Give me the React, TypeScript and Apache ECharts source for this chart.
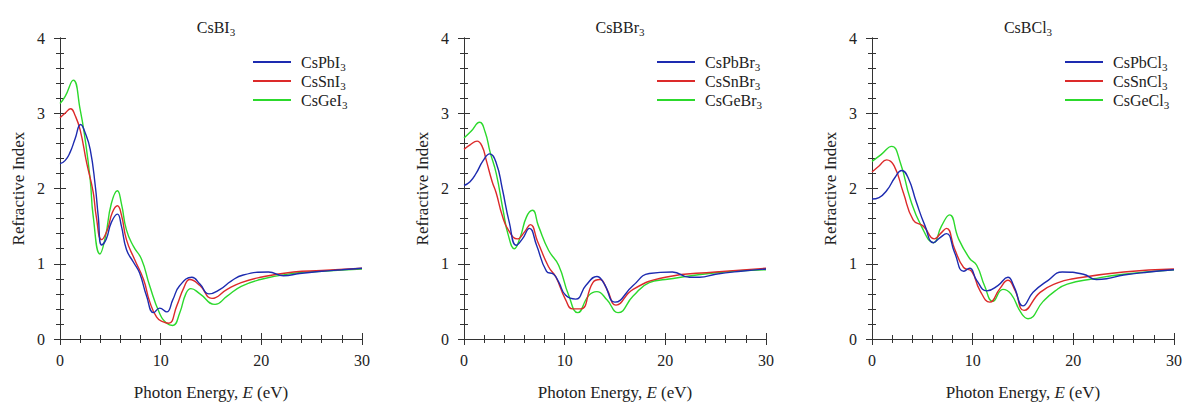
import React, { useEffect, useRef } from "react";
import * as echarts from "echarts";

// ---------- data ----------
const panelTitles = ["CsBI3", "CsBBr3", "CsBCl3"];
const seriesNames = [
  ["CsPbI3", "CsSnI3", "CsGeI3"],
  ["CsPbBr3", "CsSnBr3", "CsGeBr3"],
  ["CsPbCl3", "CsSnCl3", "CsGeCl3"],
];
const colors = ["#1d2bb0", "#dc2a2a", "#2cd92c"];
const xTicks = [0, 10, 20, 30];
const yTicks = [0, 1, 2, 3, 4];

// Panel 1: CsBI3
const CsPbI3: number[][] = [
  [0, 2.33], [0.5, 2.37], [1, 2.48], [1.5, 2.66], [2.05, 2.85], [2.5, 2.74], [3, 2.52], [3.5, 2.04],
  [3.8, 1.63], [4.14, 1.25], [4.6, 1.33], [5.1, 1.55], [5.7, 1.66], [6.1, 1.5], [6.6, 1.19], [7.3, 1.02],
  [7.9, 0.88], [8.6, 0.57], [9.3, 0.35], [9.9, 0.41], [10.6, 0.36], [11.2, 0.52], [11.9, 0.71], [13.1, 0.82],
  [13.9, 0.73], [14.8, 0.6], [15.9, 0.66], [17, 0.77], [18.2, 0.85], [20.7, 0.89], [22.2, 0.84], [23.8, 0.87],
  [26, 0.9], [28, 0.92], [30, 0.94],
];
const CsSnI3: number[][] = [
  [0, 2.94], [0.5, 3.0], [1.06, 3.06], [1.5, 2.97], [2.0, 2.78], [2.65, 2.34], [3.3, 1.95], [3.6, 1.63],
  [4.14, 1.32], [4.7, 1.45], [5.2, 1.68], [5.7, 1.77], [6.1, 1.65], [6.6, 1.32], [7.4, 1.06], [8.3, 0.79],
  [8.9, 0.5], [9.6, 0.29], [10.2, 0.23], [10.8, 0.21], [11.6, 0.44], [12.3, 0.68], [12.9, 0.79], [13.9, 0.71],
  [15.1, 0.54], [16.6, 0.66], [18, 0.75], [19.9, 0.82], [23.2, 0.89], [26, 0.91], [30, 0.94],
];
const CsGeI3: number[][] = [
  [0, 3.13], [0.5, 3.22], [1.32, 3.44], [2.0, 3.05], [2.5, 2.65], [3.0, 2.12], [3.3, 1.63], [3.97, 1.13],
  [4.5, 1.35], [5.1, 1.8], [5.7, 1.97], [6.1, 1.8], [6.6, 1.45], [7.3, 1.23], [8.1, 1.06], [8.9, 0.71],
  [9.9, 0.34], [10.6, 0.21], [11.2, 0.18], [11.9, 0.35], [12.5, 0.6], [13.0, 0.67], [13.9, 0.6], [15.4, 0.46],
  [16.6, 0.57], [18, 0.7], [19.9, 0.79], [23, 0.87], [26, 0.9], [30, 0.93],
];

// Panel 2: CsBBr3
const CsPbBr3: number[][] = [
  [0, 2.04], [0.6, 2.09], [1.2, 2.2], [1.9, 2.37], [2.55, 2.46], [3.2, 2.34], [3.8, 2.0], [4.5, 1.55],
  [5.2, 1.245], [5.8, 1.33], [6.5, 1.47], [7.2, 1.25], [8.2, 0.9], [8.9, 0.86], [9.4, 0.76], [10.1, 0.58],
  [11.1, 0.53], [12.1, 0.71], [13.2, 0.83], [13.9, 0.74], [15.0, 0.49], [16.8, 0.71], [18.4, 0.87], [20.7, 0.89],
  [22.4, 0.82], [23.4, 0.82], [25, 0.86], [27.5, 0.9], [30, 0.93],
];
const CsSnBr3: number[][] = [
  [0, 2.52], [0.6, 2.58], [1.3, 2.63], [1.8, 2.56], [2.2, 2.38], [2.8, 2.09], [3.2, 1.94], [3.8, 1.64],
  [4.4, 1.45], [5.3, 1.33], [6.0, 1.42], [6.6, 1.52], [7.3, 1.3], [8.4, 0.96], [9.1, 0.83], [10.1, 0.52],
  [10.8, 0.4], [11.6, 0.4], [12.8, 0.75], [13.5, 0.79], [14.2, 0.66], [15.1, 0.45], [16.8, 0.66], [20, 0.82],
  [25, 0.89], [30, 0.94],
];
const CsGeBr3: number[][] = [
  [0, 2.67], [0.7, 2.76], [1.55, 2.88], [2.1, 2.75], [2.6, 2.48], [3.2, 2.2], [3.9, 1.7], [4.4, 1.38],
  [5.0, 1.2], [5.6, 1.36], [6.2, 1.62], [6.8, 1.71], [7.4, 1.5], [8.4, 1.18], [9.4, 0.98], [10.4, 0.58],
  [11.3, 0.35], [12.4, 0.58], [13.2, 0.63], [14.2, 0.52], [15.3, 0.35], [16.8, 0.57], [18.4, 0.75], [20, 0.79],
  [25, 0.88], [30, 0.92],
];

// Panel 3: CsBCl3
const CsPbCl3: number[][] = [
  [0, 1.86], [0.7, 1.88], [1.5, 1.98], [2.3, 2.15], [2.95, 2.24], [3.6, 2.14], [4.4, 1.82], [5.25, 1.51],
  [6.1, 1.28], [6.7, 1.34], [7.4, 1.4], [8.2, 1.15], [9.1, 0.9], [9.7, 0.94], [10.4, 0.78], [11.4, 0.64],
  [12.5, 0.71], [13.5, 0.82], [14.1, 0.7], [15.0, 0.44], [16.0, 0.62], [17.5, 0.78], [18.9, 0.89], [21, 0.86],
  [22.3, 0.79], [23.3, 0.8], [25, 0.85], [27.5, 0.89], [30, 0.92],
];
const CsSnCl3: number[][] = [
  [0, 2.22], [0.7, 2.3], [1.45, 2.38], [2.2, 2.3], [3.1, 1.95], [4.1, 1.58], [5.1, 1.5], [6.2, 1.33],
  [6.8, 1.4], [7.4, 1.47], [8.2, 1.2], [9.1, 0.95], [9.9, 0.9], [10.7, 0.65], [11.7, 0.49], [12.7, 0.67],
  [13.5, 0.78], [14.2, 0.65], [15.1, 0.38], [16.7, 0.62], [18.5, 0.75], [20, 0.8], [25, 0.89], [30, 0.93],
];
const CsGeCl3: number[][] = [
  [0, 2.36], [0.9, 2.45], [1.95, 2.56], [2.8, 2.35], [3.8, 1.86], [4.9, 1.5], [6.1, 1.28], [6.9, 1.5],
  [7.7, 1.65], [8.6, 1.33], [9.7, 1.07], [10.4, 0.98], [11.2, 0.7], [12.0, 0.5], [13.0, 0.66], [13.8, 0.6],
  [14.8, 0.35], [15.5, 0.27], [17.0, 0.5], [18.2, 0.64], [19.4, 0.73], [22, 0.8], [25, 0.86], [30, 0.92],
];

const panelData = [
  [CsPbI3, CsSnI3, CsGeI3],
  [CsPbBr3, CsSnBr3, CsGeBr3],
  [CsPbCl3, CsSnCl3, CsGeCl3],
];

// ---------- layout ----------
const FONT = "Liberation Serif";
const TXT = "#222";
const gridLefts = [60, 464, 872];
const gridTop = 38;
const gridSize = 302;

const sub = (s: string) => `{n|${s.slice(0, -1)}}{s|${s.slice(-1)}}`;
const richSub = (size: number) => ({
  n: { fontSize: size, fontFamily: FONT, fontWeight: "normal" as const, color: TXT, lineHeight: 20 },
  s: { fontSize: Math.round(size * 0.68), fontFamily: FONT, fontWeight: "normal" as const, color: TXT, lineHeight: 11, verticalAlign: "bottom" as const },
});

export default function App() {
  const ref = useRef<HTMLDivElement>(null);
  useEffect(() => {
    if (!ref.current) return;
    const chart = echarts.init(ref.current, undefined, { renderer: "svg" });
    const grids: any[] = [];
    const xAxes: any[] = [];
    const yAxes: any[] = [];
    const series: any[] = [];
    const legends: any[] = [];
    const titles: any[] = [];
    const axisLine = { show: true, lineStyle: { color: "#333", width: 1 } };
    const txt = { fontSize: 16, fontFamily: FONT, fontWeight: "normal" as const, fontStyle: "normal" as const, color: TXT };
    const nameTxt = { ...txt, fontSize: 17 };
    const richTxt = { t: { ...txt }, i: { ...txt, fontStyle: "italic" as const } };
    const richName = { t: { ...nameTxt }, i: { ...nameTxt, fontStyle: "italic" as const } };
    panelTitles.forEach((t, i) => {
      grids.push({ left: gridLefts[i], top: gridTop, width: gridSize, height: gridSize });
      const baseX = {
        type: "value", gridIndex: i, min: 0, max: 30, interval: 10,
        axisLine, splitLine: { show: false },
        axisTick: { show: true, inside: true, length: 6, lineStyle: { color: "#333" } },
        minorTick: { show: true, splitNumber: 5, length: 4, lineStyle: { color: "#333" } },
      };
      xAxes.push({
        ...baseX, position: "bottom",
        axisLabel: {
          show: true, margin: 13, ...txt, customValues: xTicks, rich: richTxt,
          formatter: (v: number) => `{t|${v}}`,
        },
        name: "{t|Photon Energy, }{i|E}{t| (eV)}", nameLocation: "middle", nameGap: 45,
        nameTextStyle: { ...nameTxt, rich: richName },
      });
      xAxes.push({ ...baseX, position: "top", axisLabel: { show: false } });
      const baseY = {
        type: "value", gridIndex: i, min: 0, max: 4, interval: 1,
        axisLine, splitLine: { show: false },
        axisTick: { show: true, inside: true, length: 6, lineStyle: { color: "#333" } },
        minorTick: { show: true, splitNumber: 5, length: 4, lineStyle: { color: "#333" } },
      };
      yAxes.push({
        ...baseY, position: "left",
        axisLabel: {
          show: true, margin: 15, ...txt, customValues: yTicks, rich: richTxt,
          formatter: (v: number) => `{t|${v}}`,
        },
        name: "{t|Refractive Index}", nameLocation: "middle", nameGap: 33,
        nameTextStyle: { ...nameTxt, rich: richName },
      });
      yAxes.push({ ...baseY, position: "right", axisLabel: { show: false } });
      titles.push({
        text: sub(t), left: gridLefts[i] + gridSize / 2, top: 12, textAlign: "center",
        textStyle: { ...txt, rich: richSub(16) },
      });
      legends.push({
        data: seriesNames[i].map((n) => ({ name: n, icon: "rect" })),
        orient: "vertical", left: gridLefts[i] + 188, top: 49,
        itemWidth: 38, itemHeight: 2, itemGap: 1,
        formatter: (name: string) => sub(name),
        textStyle: { ...txt, rich: richSub(16), padding: [0, 0, 0, 5] },
      });
      seriesNames[i].forEach((name, j) => {
        series.push({
          type: "line", name, xAxisIndex: 2 * i, yAxisIndex: 2 * i,
          data: panelData[i][j], smooth: 0.5, symbol: "none", showSymbol: false,
          lineStyle: { color: colors[j], width: 1.4 }, itemStyle: { color: colors[j] },
          z: 3 - j,
        });
      });
    });
    chart.setOption({
      animation: false,
      backgroundColor: "#fff",
      title: titles,
      legend: legends,
      grid: grids,
      xAxis: xAxes,
      yAxis: yAxes,
      series,
    });
    return () => chart.dispose();
  }, []);
  return <div ref={ref} style={{ position: "fixed", left: 0, top: 0, width: 1195, height: 406 }} />;
}
